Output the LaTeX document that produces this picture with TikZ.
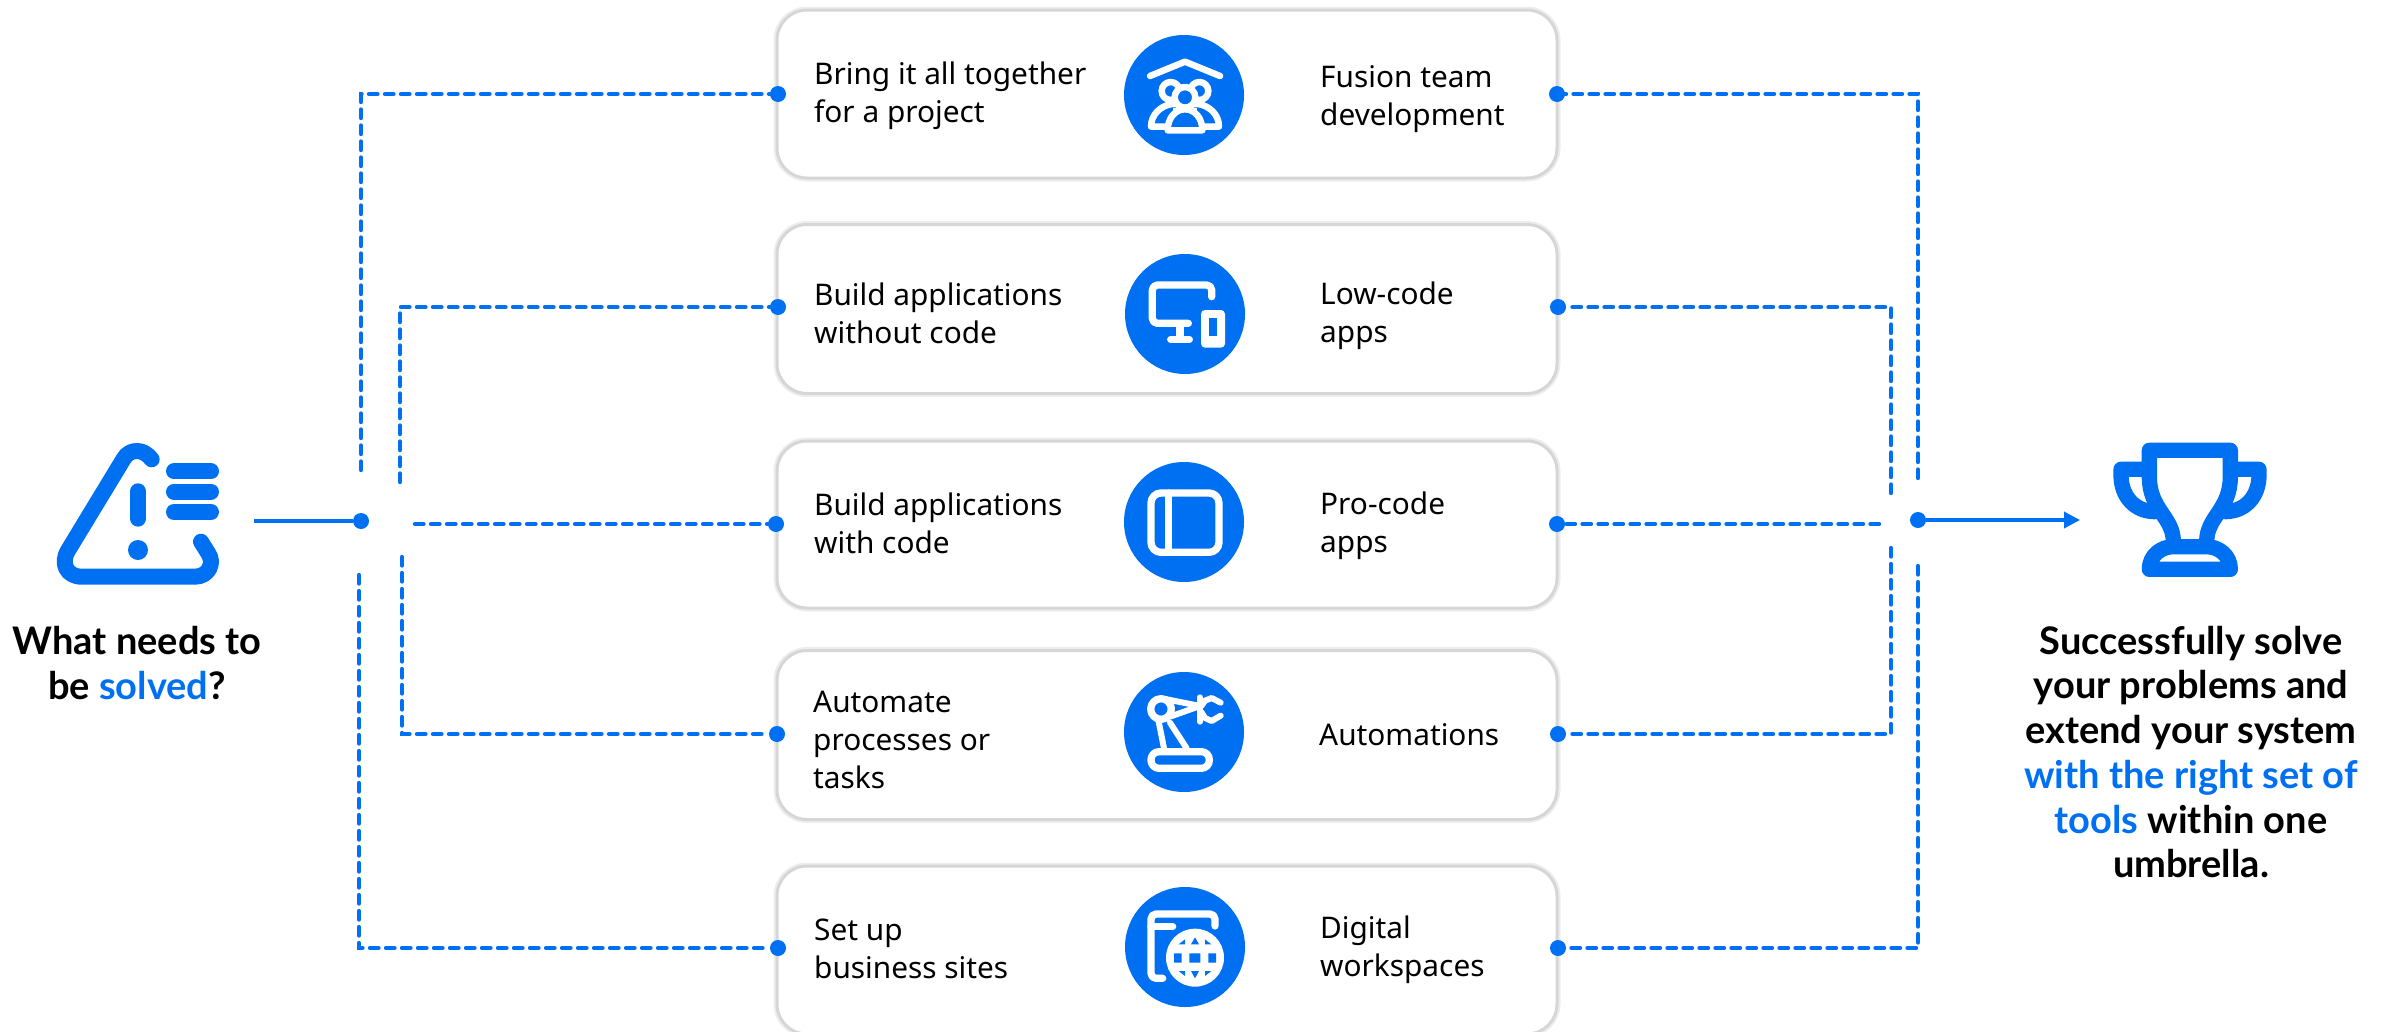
\documentclass[tikz,border=0pt]{standalone}
\usepackage{fontspec}
\setmainfont{Noto Sans}
\newfontfamily\capfont{Lato}
\usetikzlibrary{arrows.meta}
\definecolor{sapblue}{HTML}{0070F2}
\tikzset{
  cardbox/.style={draw=black!16,line width=3pt,fill=white,rounded corners=30pt,minimum width=780pt,minimum height=#1,inner sep=0pt,
    preaction={draw=black!7,line width=7pt}},
  badge/.style={circle,fill=sapblue,minimum size=120pt,inner sep=0pt},
  pin/.style={circle,fill=sapblue,minimum size=16pt,inner sep=0pt},
  cardtext/.style={anchor=west,align=left,inner sep=0pt,font=\fontsize{29.8}{38}\selectfont},
  capt/.style={align=center,inner sep=0pt,font=\capfont\fontsize{38}{44.7}\selectfont\bfseries},
  dashline/.style={sapblue,line width=4.4pt,line cap=round,dash pattern=on 8.5pt off 7.5pt},
  solidline/.style={sapblue,line width=3.6pt},
  ico/.style={white,line width=7.3pt,line cap=round,line join=round},
  bico/.style={sapblue,line cap=round,line join=round},
}
\begin{document}
\begin{tikzpicture}[x=1pt,y=-1pt]
\useasboundingbox (0,0) rectangle (2388,1031);
% cards
\node[cardbox=168pt] (c1) at (1167,94) {};
\node[cardbox=169pt] (c2) at (1167,309) {};
\node[cardbox=167pt] (c3) at (1167,524.5) {};
\node[cardbox=169pt] (c4) at (1167,735) {};
\node[cardbox=168pt] (c5) at (1167,950) {};
% badges
\node[badge] (b1) at (1184,95) {};
\node[badge] (b2) at (1185,314) {};
\node[badge] (b3) at (1184,522) {};
\node[badge] (b4) at (1184,732) {};
\node[badge] (b5) at (1185,947) {};
% card texts
\node[cardtext] (t1l) at (814,96) {Bring it all together\\for a project};
\node[cardtext] (t1r) at (1320,99) {Fusion team\\development};
\node[cardtext] (t2l) at (814,313) {Build applications\\without code};
\node[cardtext] (t2r) at (1320,316) {Low-code\\apps};
\node[cardtext] (t3l) at (814,523) {Build applications\\with code};
\node[cardtext] (t3r) at (1320,526) {Pro-code\\apps};
\node[cardtext] (t4l) at (813,740) {Automate\\processes or\\tasks};
\node[cardtext] (t4r) at (1319,735) {Automations};
\node[cardtext] (t5l) at (814,949) {Set up\\business sites};
\node[cardtext] (t5r) at (1320,950) {Digital\\workspaces};
% captions
\node[capt] (cl) at (137,663) {What needs to\\be \textcolor{sapblue}{solved}?};
\node[capt] (cr) at (2191,752) {Successfully solve\\your problems and\\extend your system\\\textcolor{sapblue}{with the right set of}\\\textcolor{sapblue}{tools} within one\\umbrella.};
% pins
\node[pin] (l1) at (778,94) {};
\node[pin] (l2) at (778,307) {};
\node[pin] (l3) at (776,524) {};
\node[pin] (l4) at (777,734) {};
\node[pin] (l5) at (778,948) {};
\node[pin] (r1) at (1557,94) {};
\node[pin] (r2) at (1558,307) {};
\node[pin] (r3) at (1557,524) {};
\node[pin] (r4) at (1558,734) {};
\node[pin] (r5) at (1558,948) {};
\node[pin] (hl) at (361,521) {};
\node[pin] (hr) at (1918,520) {};
% free ends
\coordinate (src) at (254,521);
\coordinate (dst) at (2080,520);
\coordinate (ga1) at (361,470);
\coordinate (ga2) at (400,482);
\coordinate (ga3) at (415,524);
\coordinate (ga4) at (402,557);
\coordinate (ga5) at (359,575);
\coordinate (gb1) at (1918,478);
\coordinate (gb2) at (1891,493);
\coordinate (gb3) at (1879,524);
\coordinate (gb4) at (1891,548);
\coordinate (gb5) at (1918,566);
% connectors
\draw[dashline] (ga1) |- (l1);
\draw[dashline] (ga2) |- (l2);
\draw[dashline] (ga3) -- (l3);
\draw[dashline] (ga4) |- (l4);
\draw[dashline] (ga5) |- (l5);
\draw[dashline] (gb1) |- (r1);
\draw[dashline] (gb2) |- (r2);
\draw[dashline] (gb3) -- (r3);
\draw[dashline] (gb4) |- (r4);
\draw[dashline] (gb5) |- (r5);
\draw[solidline] (src) -- (hl);
\draw[solidline,-{Triangle[length=16pt,width=16pt]}] (hr) -- (dst);
% alert icon
\begin{scope}[shift={(0,400)},x=.33333pt,y=-.33333pt,bico]
\draw[line width=16pt] (455,178) .. controls (440,160) and (428,153) .. (410,153) .. controls (395,153) and (380,160) .. (370,178) -- (205,450) .. controls (180,490) and (200,530) .. (245,530) -- (585,530) .. controls (625,530) and (645,490) .. (625,460) -- (603,425);
\draw[line width=16pt] (522,214) -- (633,214) (522,275) -- (633,275) (522,336) -- (633,336) (414,274) -- (414,356);
\fill (414,450) circle (30);
\end{scope}
% trophy icon
\begin{scope}[shift={(1820,420)},x=.33333pt,y=-.33333pt,bico]
\draw[line width=15.3pt] (1060,365) .. controls (1060,290) and (988,270) .. (988,170) -- (988,91) -- (1231,91) -- (1231,170) .. controls (1231,270) and (1160,290) .. (1160,365);
\draw[line width=15.3pt] (965,148) -- (903,148) -- (903,165) .. controls (903,230) and (945,275) .. (1005,275);
\draw[line width=15.3pt] (1255,148) -- (1317,148) -- (1317,165) .. controls (1317,230) and (1275,275) .. (1215,275);
\draw[line width=15.3pt] (988,448) .. controls (988,405) and (1025,380) .. (1060,380) -- (1160,380) .. controls (1195,380) and (1231,405) .. (1231,448) -- cycle;
\end{scope}
% team icon
\begin{scope}[shift={(1060,0)},x=.33333pt,y=-.33333pt,ico]
\draw[line width=6.5pt] (270,228) -- (375,185) -- (480,228);
\draw[line width=6.5pt] (332,273) circle (27) (418,273) circle (27);
\draw[line width=6.5pt,fill=sapblue] (273,380) .. controls (273,345) and (300,318) .. (335,312) -- (415,312) .. controls (450,318) and (477,345) .. (477,380) -- cycle;
\draw[line width=6.5pt,fill=sapblue] (375,292) circle (31);
\fill[white] (340,325) rectangle (410,335);
\draw[line width=6.5pt,fill=sapblue] (323,391) .. controls (323,355) and (345,328) .. (375,328) .. controls (405,328) and (427,355) .. (427,391) -- cycle;
\end{scope}
% monitor icon
\begin{scope}[shift={(1120,250)},x=.33333pt,y=-.33333pt,ico]
\draw (275,140) -- (275,118) [rounded corners=5pt] -- (275,105) -- (97,105) -- (97,220) -- (205,220);
\draw (180,225) -- (180,268) (152,268) -- (208,268);
\fill[white,rounded corners=4pt] (243,180) rectangle (315,293);
\fill[sapblue] (266,203) rectangle (292,258);
\end{scope}
% panel icon
\begin{scope}[shift={(1060,430)},x=.33333pt,y=-.33333pt,ico]
\draw[rounded corners=10pt] (273,189) rectangle (477,367);
\draw (325,189) -- (325,367);
\end{scope}
% robot icon
\begin{scope}[shift={(1060,430)},x=.33333pt,y=-.33333pt,ico]
\draw[rounded corners=8pt] (273,965) rectangle (448,1015);
\draw (303,837) circle (31);
\draw[line width=6pt] (295,870) -- (312,955) (330,878) -- (380,955);
\draw[line width=6pt] (315,807) -- (420,828) -- (330,860);
\draw[line width=6pt] (420,802) -- (420,875);
\draw[line width=6pt] (424,828) -- (435,812) -- (455,804) -- (482,818);
\draw[line width=6pt] (424,846) -- (435,864) -- (455,873) -- (482,857);
\end{scope}
% globe icon
\begin{scope}[shift={(1060,860)},x=.33333pt,y=-.33333pt,ico]
\draw[rounded corners=5pt] (465,198) -- (465,162) -- (273,162) -- (273,355) -- (308,355);
\draw (273,200) -- (338,200);
\fill[white] (405,293) circle (87);
\fill[sapblue] (388,280) rectangle (421,308) (342,280) rectangle (365,308) (445,280) rectangle (468,308);
\fill[sapblue] (405,232) -- (393,253) -- (417,253) -- cycle (405,355) -- (393,333) -- (417,333) -- cycle;
\fill[sapblue] (356,253) -- (375,253) -- (375,238) -- cycle (454,253) -- (435,253) -- (435,238) -- cycle (356,333) -- (375,333) -- (375,348) -- cycle (454,333) -- (435,333) -- (435,348) -- cycle;
\end{scope}
\end{tikzpicture}
\end{document}
